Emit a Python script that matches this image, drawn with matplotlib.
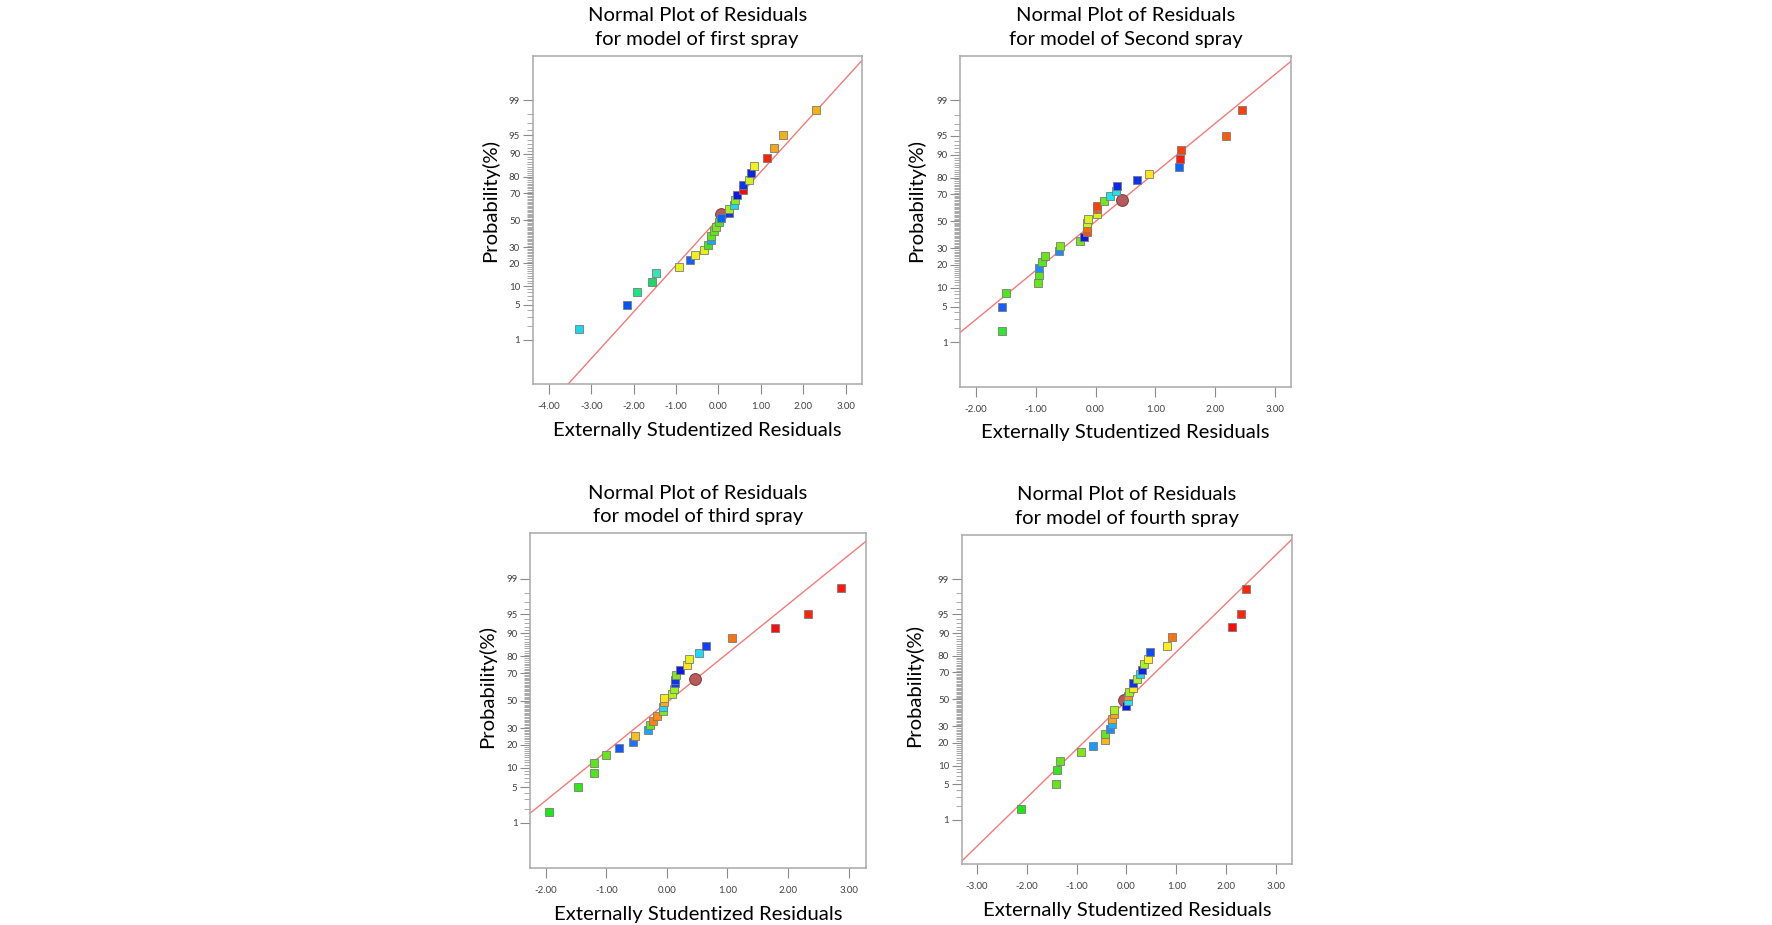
import math
import numpy as np
import matplotlib
matplotlib.use("Agg")
import matplotlib.pyplot as plt
from matplotlib.ticker import FixedLocator, NullFormatter, MultipleLocator, FuncFormatter

plt.rcParams['font.family'] = ['Lato', 'DejaVu Sans']

# ---- data (x = residual, p = probability %) ----
titles = ["Normal Plot of Residuals\nfor model of first spray",
          "Normal Plot of Residuals\nfor model of Second spray",
          "Normal Plot of Residuals\nfor model of third spray",
          "Normal Plot of Residuals\nfor model of fourth spray"]

x1 = [-3.29, -2.16, -1.93, -1.56, -1.47, -0.92, -0.67, -0.54, -0.35, -0.24,
      -0.18, -0.17, -0.11, -0.05, 0.01, 0.06, 0.26, 0.26, 0.37, 0.38,
      0.45, 0.57, 0.58, 0.73, 0.77, 0.83, 1.14, 1.32, 1.53, 2.31]
p1 = [1.7, 5.0, 8.2, 11.6, 15.1, 18.3, 21.7, 24.9, 28.3, 31.6,
      34.9, 38.1, 41.6, 44.9, 48.2, 51.8, 55.1, 58.4, 61.7, 64.8,
      68.4, 71.7, 74.9, 78.3, 81.7, 85.1, 88.4, 91.8, 95.1, 98.4]
c1 = ['#1ad9e6', '#0055ff', '#19e67f', '#1ad966', '#33e6b3', '#e6f21a', '#1a5cff', '#f2f21a', '#e6f20d', '#40e61a',
      '#1aa6ff', '#66e61a', '#59e61a', '#80e61a', '#4de61a', '#0066ff', '#1a33e6', '#a6f21a', '#1ad9f2', '#80f21a',
      '#0d1ae6', '#f20d0d', '#0d33f2', '#ccf21a', '#0d26e6', '#f2f21a', '#f2260d', '#f2a61a', '#f2b31a', '#f2b30d']

x2 = [-1.57, -1.57, -1.50, -0.96, -0.955, -0.95, -0.89, -0.84, -0.61, -0.59,
      -0.26, -0.195, -0.145, -0.145, -0.14, -0.134, 0.017, 0.02, 0.03, 0.14,
      0.246, 0.335, 0.363, 0.70, 0.90, 1.40, 1.42, 1.43, 2.19, 2.45]
p2 = [1.7, 5.0, 8.3, 11.7, 15.1, 18.3, 21.5, 24.9, 28.4, 31.5,
      35.0, 38.4, 41.6, 44.6, 48.5, 51.8, 55.4, 59.1, 61.8, 65.0,
      68.7, 72.0, 75.1, 78.5, 81.7, 85.0, 88.3, 91.6, 95.0, 98.4]
c2 = ['#33e633', '#1a5cff', '#4de61a', '#66e61a', '#59e61a', '#1a8cff', '#59e61a', '#66e61a', '#1a8cff', '#80e61a',
      '#73e61a', '#0d1ae6', '#ff4d0d', '#ff660d', '#ccf21a', '#d9f21a', '#d9f21a', '#ff591a', '#ff400d', '#73e61a',
      '#1ae6f2', '#1ae6e6', '#0d26f2', '#0d33f2', '#ffe61a', '#0d66ff', '#ff1a0d', '#ff400d', '#ff590d', '#ff400d']

x3 = [-1.95, -1.46, -1.20, -1.20, -1.00, -0.79, -0.56, -0.52, -0.31, -0.28,
      -0.225, -0.17, -0.07, -0.07, -0.055, -0.05, 0.09, 0.12, 0.13, 0.14,
      0.15, 0.21, 0.325, 0.37, 0.53, 0.64, 1.08, 1.79, 2.33, 2.87]
p3 = [1.7, 5.0, 8.4, 11.8, 15.2, 18.4, 21.7, 25.2, 28.6, 31.9,
      34.9, 38.5, 42.0, 45.5, 49.0, 52.0, 55.0, 58.6, 63.2, 65.5,
      68.5, 72.0, 75.4, 78.4, 82.0, 85.1, 88.5, 91.8, 95.1, 98.4]
c3 = ['#1ae61a', '#33e61a', '#4de61a', '#59e61a', '#66e61a', '#0d59ff', '#1a73ff', '#ffbf1a', '#1aa6ff', '#66e61a',
      '#ff800d', '#ff8c1a', '#80e61a', '#1ad9ff', '#ffa61a', '#ffe61a', '#b3f21a', '#99f21a', '#0d40ff', '#0d33f2',
      '#80e61a', '#0d1ae6', '#ffe61a', '#e6f21a', '#1ad9ff', '#0d40ff', '#ff730d', '#ff0d0d', '#ff260d', '#ff1a0d']

x4 = [-2.115, -1.42, -1.405, -1.33, -0.92, -0.68, -0.44, -0.43, -0.335, -0.295,
      -0.295, -0.255, -0.255, 0.0, 0.03, 0.04, 0.05, 0.13, 0.14, 0.21,
      0.28, 0.32, 0.35, 0.43, 0.47, 0.82, 0.92, 2.11, 2.30, 2.40]
p4 = [1.7, 5.0, 8.5, 11.8, 15.3, 18.6, 21.8, 25.2, 28.6, 32.0,
      35.2, 38.6, 42.1, 44.9, 48.7, 52.6, 55.6, 58.7, 62.4, 65.3,
      68.7, 71.8, 75.2, 78.5, 81.9, 85.1, 88.5, 91.8, 95.1, 98.4]
c4 = ['#1ae61a', '#66e61a', '#33e61a', '#66e61a', '#80e61a', '#1a99ff', '#ffb31a', '#66e61a', '#1a8cff', '#1ab3ff',
      '#ffa61a', '#ffa01a', '#a6f21a', '#0d1ae6', '#1ae6ff', '#ff8c1a', '#99f21a', '#ffe61a', '#0d33f2', '#b3f21a',
      '#1ad9f2', '#0d26e6', '#a6f21a', '#fff21a', '#0d4dff', '#ffee1a', '#ff730d', '#ff0d0d', '#ff260d', '#ff260d']

# highlighted run (round marker) in each plot
hl_x = [0.07, 0.436, 0.46, -0.05]
hl_p = [54.4, 65.9, 66.0, 49.5]

# red reference lines, two end points each
line_x = [[-3.55, 3.38], [-2.27, 3.27], [-2.26, 3.28], [-3.31, 3.33]]
line_p = [[0.072, 99.90], [1.61, 99.895], [1.60, 99.878], [0.087, 99.905]]

xlims = [(-4.38, 3.38), (-2.27, 3.27), (-2.26, 3.28), (-3.31, 3.33)]
ylim = (0.072, 99.928)
yticks_major = [1, 5, 10, 20, 30, 50, 70, 80, 90, 95, 99]
yticks_minor = [v for v in range(2, 99) if v not in yticks_major]

xs = [x1, x2, x3, x4]
ps = [p1, p2, p3, p4]
cs = [c1, c2, c3, c4]


# normal probability scale (no scipy here)
A = [-3.969683028665376e+01, 2.209460984245205e+02, -2.759285104469687e+02,
     1.383577518672690e+02, -3.066479806614716e+01, 2.506628277459239e+00]
B = [-5.447609879822406e+01, 1.615858368580409e+02, -1.556989798598866e+02,
     6.680131188771972e+01, -1.328068155288572e+01, 1.0]
C = [-7.784894002430293e-03, -3.223964580411365e-01, -2.400758277161838e+00,
     -2.549732539343734e+00, 4.374664141464968e+00, 2.938163982698783e+00]
D = [7.784695709041462e-03, 3.224671290700398e-01, 2.445134137142996e+00,
     3.754408661907416e+00, 1.0]


def prob_to_z(p):
    q = np.clip(np.asarray(p, dtype=float) / 100.0, 1e-12, 1 - 1e-12)
    z = np.zeros_like(q)
    lo = q < 0.02425
    hi = q > 1 - 0.02425
    mid = ~(lo | hi)
    r = q[mid] - 0.5
    s = r * r
    z[mid] = np.polyval(A, s) * r / np.polyval(B, s)
    t = np.sqrt(-2 * np.log(q[lo]))
    z[lo] = np.polyval(C, t) / np.polyval(D, t)
    t = np.sqrt(-2 * np.log(1 - q[hi]))
    z[hi] = -np.polyval(C, t) / np.polyval(D, t)
    return z


_erf = np.vectorize(math.erf, otypes=[float])


def z_to_prob(z):
    z = np.asarray(z, dtype=float)
    return 50.0 * (1.0 + _erf(z / math.sqrt(2)))


fig = plt.figure(figsize=(17.72, 9.25), dpi=100)

rects = [[0.3006, 0.5845, 0.1857, 0.3552],
         [0.5418, 0.5819, 0.1866, 0.3578],
         [0.2991, 0.0616, 0.1894, 0.3618],
         [0.5427, 0.0659, 0.1866, 0.3560]]
ylab_pos = [(-0.102, 0.561), (-0.106, 0.562), (-0.101, 0.542), (-0.118, 0.541)]

for i in range(4):
    ax = fig.add_axes(rects[i])
    ax.set_yscale('function', functions=(prob_to_z, z_to_prob))

    ax.plot(line_x[i], line_p[i], color='#f47a7a', lw=1.0, zorder=1)
    ax.plot(hl_x[i], hl_p[i], marker='o', ms=8.5, mfc='#b85a5a', mec='#7a3a3a',
            mew=0.7, ls='none', zorder=2)
    for xv, pv, cv in zip(xs[i], ps[i], cs[i]):
        ax.plot(xv, pv, marker='s', ms=6.3, mfc=cv, mec='#7a7a7a', mew=0.6,
                ls='none', zorder=3)

    ax.set_xlim(*xlims[i])
    ax.set_ylim(*ylim)

    ax.yaxis.set_major_locator(FixedLocator(yticks_major))
    ax.yaxis.set_major_formatter(FuncFormatter(lambda v, pos: f"{v:g}"))
    ax.yaxis.set_minor_locator(FixedLocator(yticks_minor))
    ax.yaxis.set_minor_formatter(NullFormatter())
    ax.xaxis.set_major_locator(MultipleLocator(1))
    ax.xaxis.set_major_formatter(FuncFormatter(lambda v, pos: f"{v:.2f}"))

    ax.tick_params(axis='y', which='major', length=7, width=0.8, color='#8a8a8a',
                   labelsize=7, labelcolor='#404040', pad=2)
    ax.tick_params(axis='y', which='minor', length=4, width=0.6, color='#9a9a9a')
    ax.tick_params(axis='x', which='major', length=7, width=0.8, color='#8a8a8a',
                   labelsize=7, labelcolor='#404040', pad=6)

    for sp in ax.spines.values():
        sp.set_color('#a8a8a8')
        sp.set_linewidth(1.1)

    ax.set_title(titles[i], fontsize=14.6, linespacing=1.45, pad=8)
    ax.set_xlabel("Externally Studentized Residuals", fontsize=14.6)
    ax.xaxis.set_label_coords(0.5, -0.114)
    ax.set_ylabel("Probability(%)", fontsize=14.6)
    ax.yaxis.set_label_coords(*ylab_pos[i])

fig.savefig("out.png", dpi=100)
